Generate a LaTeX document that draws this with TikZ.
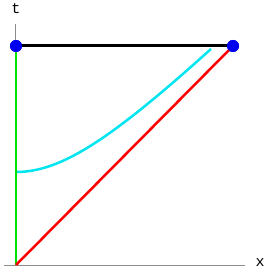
\documentclass[tikz,border=0pt]{standalone}
\usepackage{fontspec}
\setmonofont{Liberation Mono}
\usetikzlibrary{positioning,calc}
\definecolor{axisgray}{HTML}{8C8C8C}
\definecolor{dotblue}{HTML}{0000F0}
\definecolor{lgreen}{HTML}{00E000}
\definecolor{lcyan}{HTML}{00E5F0}
\tikzset{
  dot/.style={circle,fill=dotblue,inner sep=0pt,minimum size=12pt},
  axislabel/.style={font=\ttfamily\fontsize{15}{15}\selectfont,inner sep=0pt}
}
\begin{document}
\begin{tikzpicture}[x=1pt,y=1pt]
  \useasboundingbox (-16,-8) rectangle (257,265);
  % axes
  \coordinate (o) at (0,0);
  \coordinate (xend) at (229,0);
  \coordinate (xstart) at (-12,0);
  \coordinate (tend) at (0,241);
  \draw[axisgray,line width=1pt] (xstart) -- (xend);
  \draw[axisgray,line width=1pt] (o) -- (tend);
  \node[axislabel] (xlab) at (244,2) {x};
  \node[axislabel] (tlab) at (0,256) {t};
  % curves
  \draw[lcyan,line width=2.5pt] plot[domain=0:195,samples=60] (\x,{93*sqrt(1+(\x/93)*(\x/93))});
  \node[dot] (p) at (0,219) {};
  \node[dot] (q) at (217,219) {};
  \draw[lgreen,line width=2pt] (o) -- (p.center);
  \draw[red,line width=2.5pt] (o) -- (q.center);
  \draw[black,line width=3pt] (p.center) -- (q.center);
  \node[dot] at (p) {};
  \node[dot] at (q) {};
\end{tikzpicture}
\end{document}
